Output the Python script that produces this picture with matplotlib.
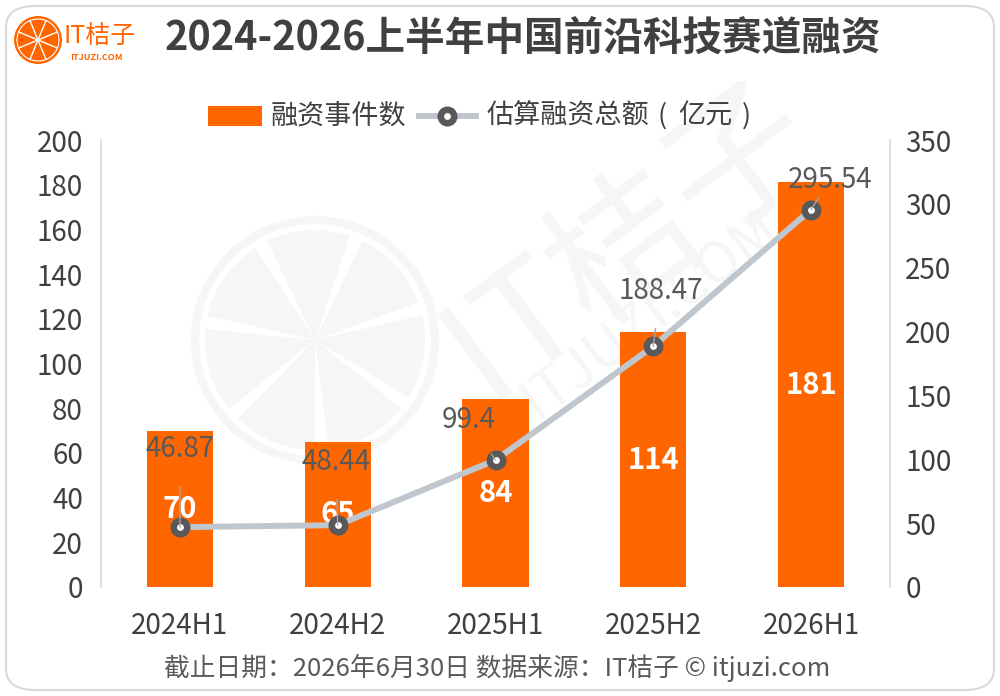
import matplotlib
matplotlib.use("Agg")
import matplotlib.pyplot as plt
from matplotlib.patches import FancyBboxPatch, Circle, Wedge, Rectangle
from matplotlib.lines import Line2D
import numpy as np

plt.rcParams['font.family'] = ['Noto Sans CJK SC', 'DejaVu Sans']

categories = ["2024H1", "2024H2", "2025H1", "2025H2", "2026H1"]
event_counts = [70, 65, 84, 114, 181]
funding_totals = [46.87, 48.44, 99.4, 188.47, 295.54]
left_ticks = [0, 20, 40, 60, 80, 100, 120, 140, 160, 180, 200]
right_ticks = [0, 50, 100, 150, 200, 250, 300, 350]

title = "2024-2026上半年中国前沿科技赛道融资"
legend_bar = "融资事件数"
legend_line = "估算融资总额"
legend_unit = "亿元"
footer = "截止日期：2026年6月30日 数据来源：IT桔子 © itjuzi.com"

ORANGE = "#FF6600"
LINE = "#BFC6CD"
DARK = "#404040"
GREY = "#595959"
AXIS = "#D9D9D9"

fig = plt.figure(figsize=(10, 6.96), dpi=100)
W, H = 1000, 696

def fx(px):
    return px / W

def fy(py):
    return 1 - py / H

# border frame
frame = FancyBboxPatch((fx(6), fy(690)), fx(988), 684 / H,
                       boxstyle="round,pad=0,rounding_size=0.03",
                       transform=fig.transFigure, facecolor="white",
                       edgecolor="#D9D9D9", linewidth=1.5, zorder=-3)
fig.patches.append(frame)

# watermark
wm_color = "#F6F6F6"
cx, cy, r = 315, 340, 120
fig.patches.append(Circle((cx, H - cy), r, transform=None,
                          facecolor="none", edgecolor=wm_color, lw=6, zorder=-2))
n_seg = 7
for k in range(n_seg):
    a0 = k * 360 / n_seg + 20
    w = Wedge((cx, H - cy), r - 10, a0, a0 + 360 / n_seg - 7, facecolor=wm_color,
              edgecolor="none", zorder=-2, transform=None)
    fig.patches.append(w)
fig.text(fx(630), fy(240), "IT桔子", rotation=37, fontsize=105, color=wm_color,
         ha="center", va="center", zorder=-2)
fig.text(fx(650), fy(315), "ITJUZI.COM", rotation=37, fontsize=40, color=wm_color,
         ha="center", va="center", zorder=-2)

# axes
ax = fig.add_axes([0.101, fy(587), 0.789, (587 - 140) / H])
ax.set_facecolor("none")
ax2 = ax.twinx()
x = np.arange(len(categories))
bars = ax.bar(x, event_counts, width=0.42, color=ORANGE, zorder=2)
ax.set_xlim(-0.5, len(categories) - 0.5)
ax.set_ylim(0, 200)
ax.set_yticks(left_ticks)
ax.set_xticks(x)
ax.set_xticklabels(categories)
ax2.set_ylim(0, 350)
ax2.set_yticks(right_ticks)
for a in (ax, ax2):
    for s in a.spines.values():
        s.set_visible(False)
    a.tick_params(length=0, labelsize=20, colors=DARK)
ax.spines["left"].set_visible(True)
ax.spines["left"].set_color(AXIS)
ax.spines["left"].set_linewidth(1.2)
ax2.spines["right"].set_visible(True)
ax2.spines["right"].set_color(AXIS)
ax2.spines["right"].set_linewidth(1.2)
ax.tick_params(axis="y", pad=13)
ax.tick_params(axis="x", pad=17)
ax2.tick_params(axis="y", pad=11)

for xi, v in zip(x, event_counts):
    ax.text(xi, v / 2, str(v), ha="center", va="center", color="white",
            fontsize=21, fontweight="bold", zorder=3)

ax2.plot(x, funding_totals, color=LINE, lw=4.3, zorder=4, solid_capstyle="round")
ax2.plot(x, funding_totals, linestyle="none", marker="o", markersize=9.7,
         markerfacecolor="white", markeredgecolor=GREY, markeredgewidth=4.7, zorder=5)

label_offsets = [(0, 78), (-2, 63), (-27, 40), (7, 55), (19, 30)]
for xi, v, (dx, dy) in zip(x, funding_totals, label_offsets):
    ax2.annotate(f"{v:g}", xy=(xi, v), xytext=(dx, dy), textcoords="offset pixels",
                 ha="center", va="center", fontsize=20, color=GREY, zorder=6,
                 arrowprops=dict(arrowstyle="-", color="#A6A6A6", lw=1,
                                 shrinkA=14, shrinkB=0))

# title and logo
fig.text(fx(523), fy(38), title, ha="center", va="center", fontsize=28.5,
         fontweight="bold", color=DARK)
lcx, lcy, lr = 38, 40, 24
fig.patches.append(Circle((lcx, H - lcy), lr, transform=None,
                          facecolor=ORANGE, edgecolor="none", zorder=2))
fig.patches.append(Circle((lcx, H - lcy), lr - 3, transform=None,
                          facecolor="none", edgecolor="white", lw=0.8, zorder=2.1))
for k in range(8):
    ang = np.deg2rad(k * 45 + 22.5)
    fig.lines.append(Line2D([lcx, lcx + (lr - 3) * np.cos(ang)],
                            [H - lcy, H - lcy + (lr - 3) * np.sin(ang)],
                            transform=None, color="white", lw=1, zorder=2.2))
fig.text(fx(64), fy(37), "IT桔子", ha="left", va="center", fontsize=18, color=ORANGE)
fig.text(fx(70), fy(57), "ITJUZI.COM", ha="left", va="center", fontsize=6.5,
         color=ORANGE, fontweight="bold")

# legend
ly = 116
fig.patches.append(Rectangle((fx(208), fy(ly + 10)), fx(54), 20 / H, transform=fig.transFigure,
                             facecolor=ORANGE, edgecolor="none"))
fig.text(fx(271), fy(ly), legend_bar, ha="left", va="center", fontsize=19.5, color=DARK)
fig.lines.append(Line2D([fx(419), fx(476)], [fy(ly), fy(ly)], transform=fig.transFigure,
                        color=LINE, lw=4.3))
fig.lines.append(Line2D([fx(447)], [fy(ly)], transform=fig.transFigure, marker="o",
                        markersize=9.7, markerfacecolor="white", markeredgecolor=GREY,
                        markeredgewidth=4.7))
fig.text(fx(487), fy(ly), legend_line, ha="left", va="center", fontsize=19.5, color=DARK)
fig.text(fx(662), fy(ly), "(", ha="center", va="center", fontsize=19.5, color=DARK)
fig.text(fx(678), fy(ly), legend_unit, ha="left", va="center", fontsize=19.5, color=DARK)
fig.text(fx(746), fy(ly), ")", ha="center", va="center", fontsize=19.5, color=DARK)

# footer
fig.text(fx(497), fy(668), footer, ha="center", va="center", fontsize=18.5, color=GREY)

fig.savefig("out.png", dpi=100)
